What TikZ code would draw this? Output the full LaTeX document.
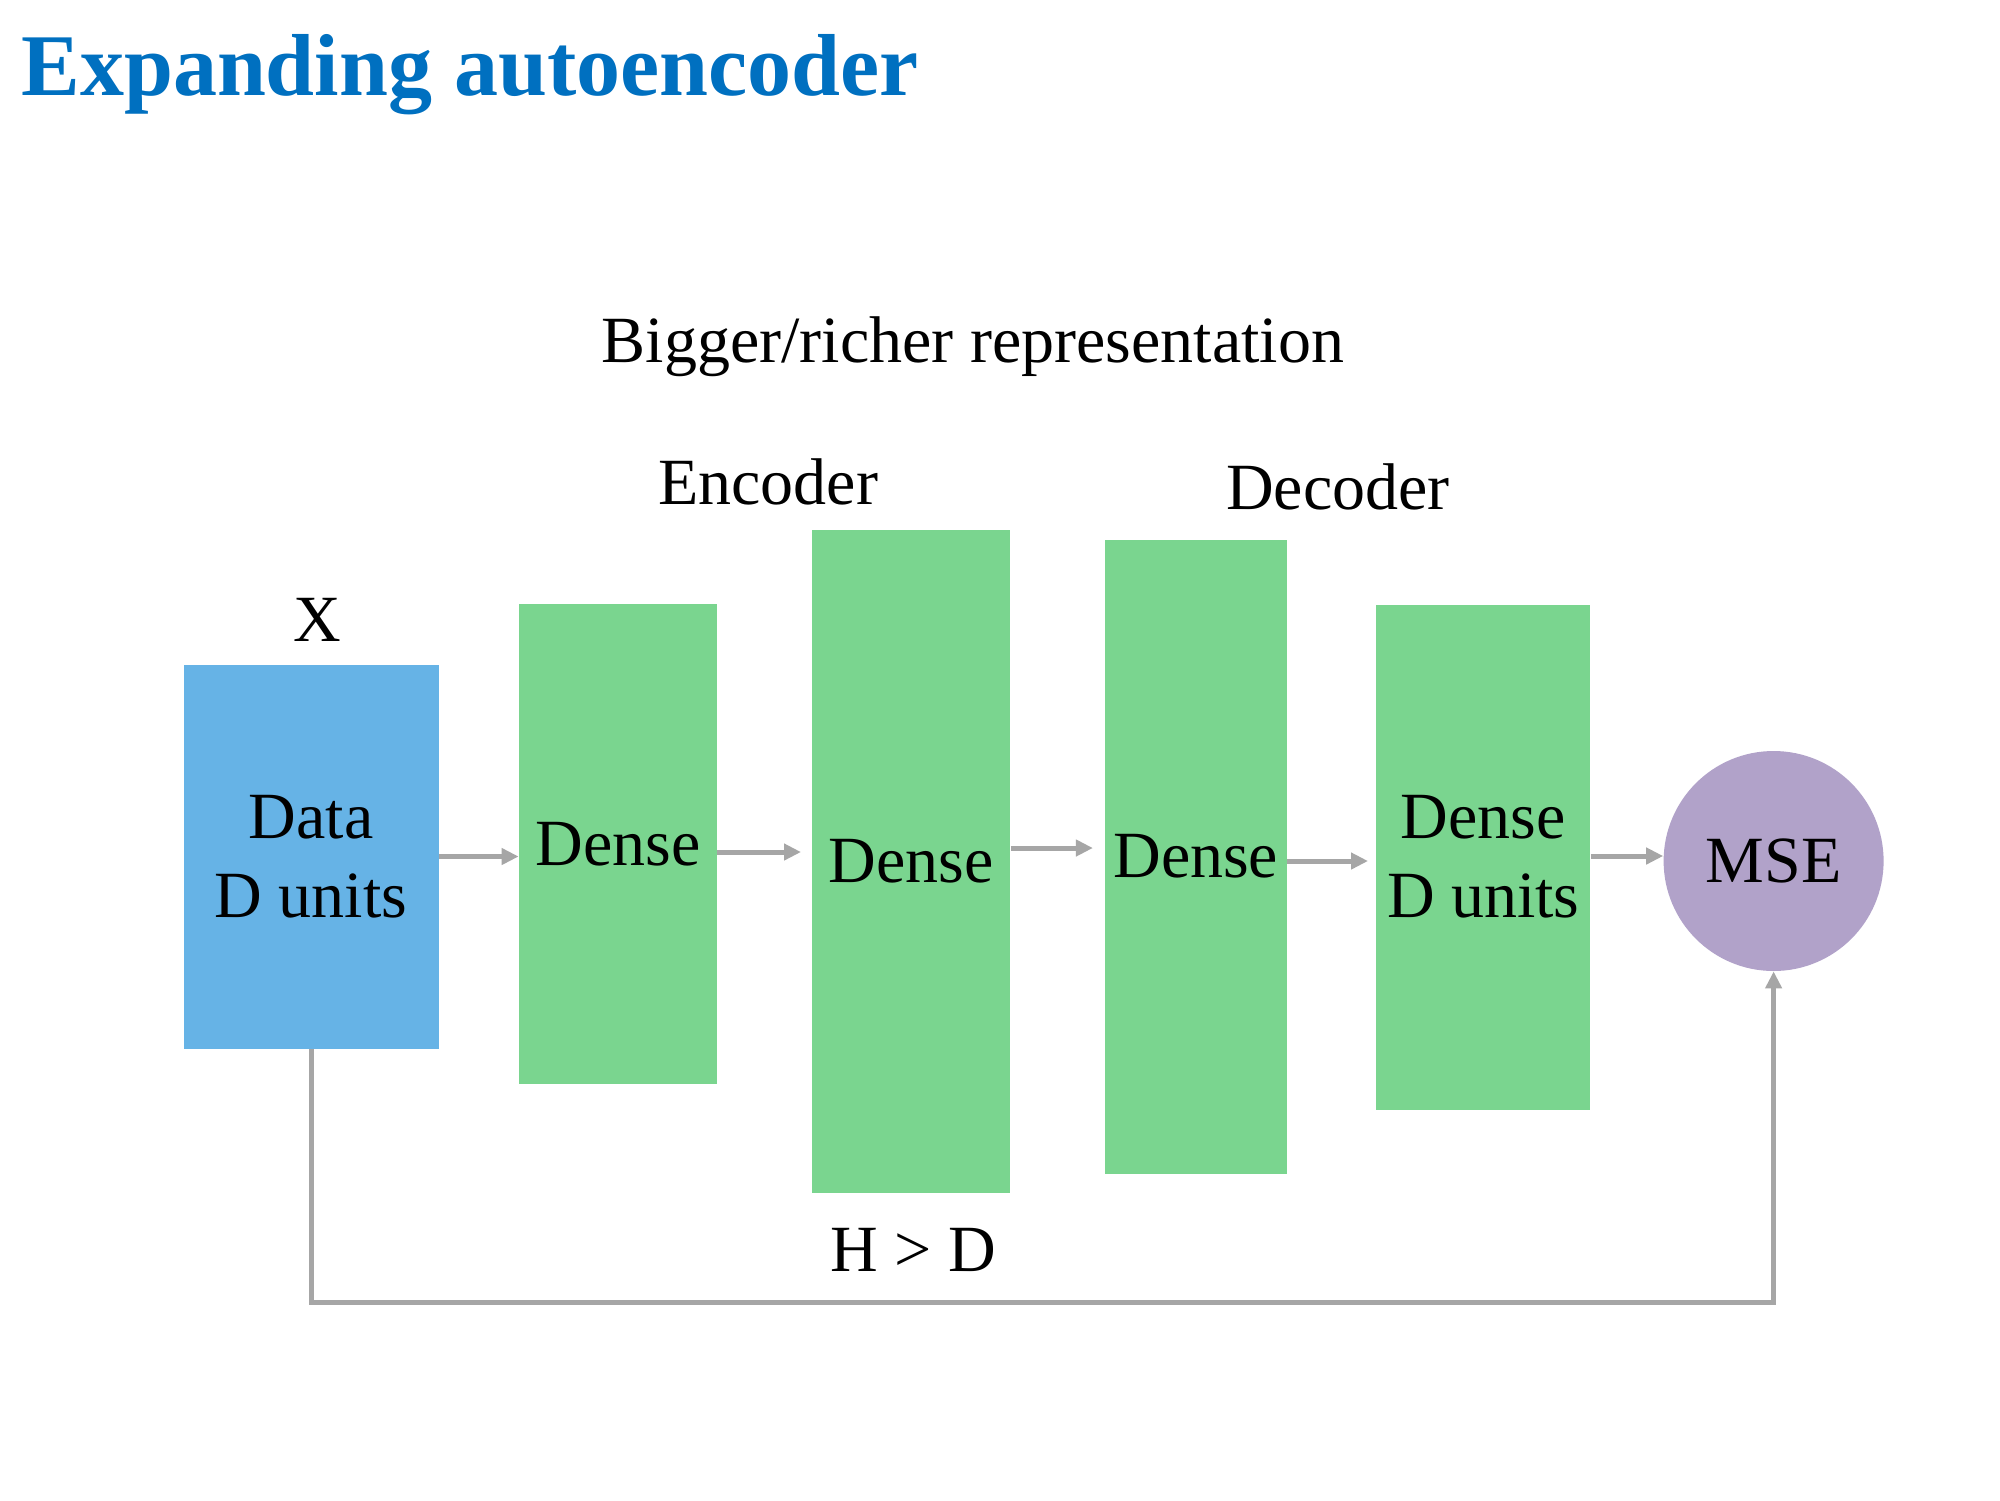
\documentclass[tikz,border=0pt]{standalone}
\usepackage{fontspec}
\setmainfont{Liberation Serif}
\usetikzlibrary{calc,arrows.meta}
\definecolor{titleblue}{RGB}{0,112,192}
\definecolor{datablue}{RGB}{102,179,230}
\definecolor{densegreen}{RGB}{122,213,143}
\definecolor{msepurple}{RGB}{177,162,201}
\definecolor{arrgray}{RGB}{166,166,166}
\begin{document}
\begin{tikzpicture}[x=0.5pt,y=-0.5pt,
  txt/.style={font=\fontsize{33}{39.6}\selectfont, align=center, inner sep=0pt},
  layer/.style={txt, rectangle, fill=densegreen, draw=none},
  arr/.style={draw=arrgray, line width=2.5pt, -{Triangle[length=8.5pt,width=8pt]}},
  link/.style={draw=arrgray, line width=2.5pt}]
\useasboundingbox (0,0) rectangle (2000,1500);
\fill[white] (0,0) rectangle (2000,1500);
% title
\node[anchor=base west, inner sep=0pt, text=titleblue, font=\fontsize{44}{52}\selectfont\bfseries] (title) at (21,95) {Expanding autoencoder};
% boxes
\node[txt, rectangle, fill=datablue, minimum width=127.5pt, minimum height=192pt] (data) at (311,856.5) {Data\\D units};
\node[layer, minimum width=99pt, minimum height=240pt] (d1) at (618,844.4) {Dense};
\node[layer, minimum width=99pt, minimum height=331.5pt] (d2) at (911.4,861) {Dense};
\node[layer, minimum width=91pt, minimum height=317pt] (d3) at (1195.8,856.5) {Dense};
\node[layer, minimum width=107pt, minimum height=252.5pt] (d4) at (1483.4,857) {Dense\\D units};
\node[txt, circle, fill=msepurple, minimum size=110pt] (mse) at (1773.6,861) {MSE};
% labels
\node[txt] (xlab) at (317.6,620) {X};
\node[txt] (enc) at (768,482) {Encoder};
\node[txt] (dec) at (1338,487) {Decoder};
\node[txt] (big) at (973,347) {Bigger/richer representation};
\node[txt] (hd) at (913,1250) {H \textgreater{} D};
% arrows
\draw[arr] (data.east) -- ($(d1.west)+(0,12.1)$);
\draw[arr] ($(d1.east)+(0,7.6)$) -- ($(d2.west)+(-11,-9)$);
\draw[arr] ($(d2.east)+(0,-13)$) -- ($(d3.west)+(-11.5,-8.5)$);
\draw[arr] ($(d3.east)+(0,4.5)$) -- ($(d4.west)+(-8,4)$);
\draw[arr] ($(d4.east)+(0,-1)$) -- ($(mse.west)+(0,-5)$);
% feedback
\coordinate (fb) at (1773.6,1302);
\draw[arr] (data.south) |- (fb) -- (mse.south);
\end{tikzpicture}
\end{document}
